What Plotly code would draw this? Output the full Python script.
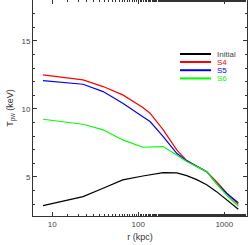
import plotly.graph_objects as go

r_kpc = [7.8, 22.8, 39, 66, 113, 137, 195, 280, 366, 478, 624, 813, 1070, 1456]
T_initial = [2.89, 3.55, 4.17, 4.78, 5.07, 5.17, 5.32, 5.3, 5.1, 4.8, 4.42, 3.92, 3.33, 2.62]
T_S4 = [12.5, 12.13, 11.64, 11.03, 10.1, 9.68, 8.46, 6.99, 6.2, 5.81, 5.39, 4.65, 3.8, 2.98]
T_S5 = [12.08, 11.81, 11.27, 10.42, 9.43, 9.07, 7.96, 6.74, 6.18, 5.76, 5.39, 4.53, 3.78, 3.1]
T_S6 = [9.24, 8.87, 8.46, 7.72, 7.18, 7.18, 7.23, 6.62, 6.13, 5.76, 5.39, 4.5, 3.65, 2.85]

series_names = ["Initial", "S4", "S5", "S6"]
series_colors = ["#000000", "#ff0000", "#0000ff", "#00ff00"]
series_values = [T_initial, T_S4, T_S5, T_S6]

x_tickvals = [10, 100, 1000]
x_ticktext = ["10", "100", "1000"]
y_tickvals = [5, 10, 15]
y_ticktext = ["5", "10", "15"]

fig = go.Figure()
for name, color, vals in zip(series_names, series_colors, series_values):
    fig.add_trace(go.Scatter(x=r_kpc, y=vals, mode="lines", name=name,
                             line=dict(color=color, width=1.2), showlegend=False))

# manual legend
leg_y = [0.75, 0.713, 0.675, 0.637]
for name, color, yy in zip(series_names, series_colors, leg_y):
    fig.add_shape(type="line", xref="paper", yref="paper", x0=0.687, x1=0.832, y0=yy, y1=yy,
                  line=dict(color=color, width=2))
    fig.add_annotation(xref="paper", yref="paper", x=0.852, y=yy, text=name, showarrow=False,
                       xanchor="left", yanchor="middle", height=8,
                       font=dict(family="Liberation Sans", size=8,
                                 color="#444444" if name == "Initial" else color))

axis_common = dict(showline=True, linecolor="#333333", linewidth=1, mirror="ticks",
                   ticks="inside", ticklen=4, tickcolor="#333333", tickwidth=1,
                   showgrid=False, zeroline=False,
                   tickfont=dict(family="Liberation Sans", size=8, color="#444444"))

fig.update_xaxes(type="log", range=[0.776, 3.264], tickvals=x_tickvals, ticktext=x_ticktext,
                 minor=dict(ticks="inside", ticklen=2, tickcolor="#333333", showgrid=False),
                 title=dict(text="r (kpc)", font=dict(family="Liberation Sans", size=9, color="#333333"),
                            standoff=6),
                 **axis_common)
fig.update_yaxes(range=[2.13, 18.0], tickvals=y_tickvals, ticktext=y_ticktext,
                 minor=dict(ticks="inside", ticklen=2, tickcolor="#333333", dtick=1, showgrid=False),
                 title=dict(text="T<sub>pw</sub> (keV)", font=dict(family="Liberation Sans", size=9, color="#333333"),
                            standoff=6),
                 **axis_common)

fig.update_layout(width=249, height=245, margin=dict(l=33, r=2, t=0, b=29),
                  plot_bgcolor="white", paper_bgcolor="white")

fig.write_html("out.html", config={"displayModeBar": False, "staticPlot": True},
               post_script="document.body.style.margin='0';document.body.style.overflow='hidden';")
